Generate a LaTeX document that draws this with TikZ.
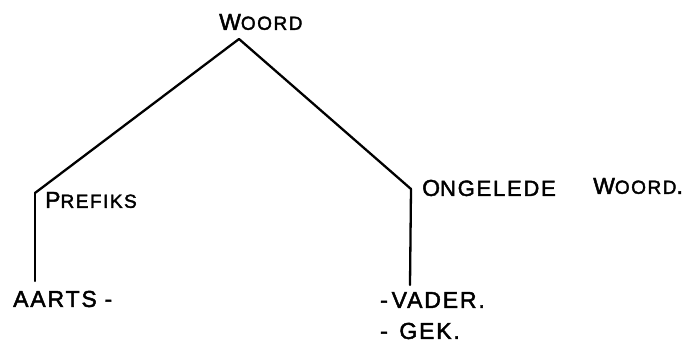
\documentclass[tikz,border=0pt]{standalone}
\usepackage{fontspec}
\setmainfont{Liberation Sans}[FakeBold=2.0, LetterSpace=8]
\newcommand{\sm}{\fontsize{19}{21}\selectfont}
\tikzset{
  hand/.style={anchor=west, inner sep=0pt, font=\fontsize{23}{25}\selectfont},
  branch/.style={line width=2.3pt, line cap=round, line join=round}
}
\begin{document}
\begin{tikzpicture}[x=1pt,y=-1pt]
\useasboundingbox (0,0) rectangle (686,347);
% texts
\node[hand] (woord) at (219,22) {W{\sm OORD}};
\node[hand] (prefiks) at (45,200) {P{\sm REFIKS}};
\node[hand] (aarts) at (13,299) {AARTS\,\,-};
\node[hand] (ongelede) at (422,188) {O{\fontsize{22}{24}\selectfont NGELEDE}};
\node[hand] (woord2) at (593,186) {W{\sm OORD}.};
\node[hand] (vader) at (380,300) {-\,VADER.};
\node[hand] (gek) at (380,331) {-\,\,\,GEK.};
% connectors
\coordinate (apex) at (239,39);
\coordinate (lb) at (35,193);
\coordinate (lbot) at (35,281);
\coordinate (rb) at (411,189);
\coordinate (rbot) at (410,285);
\draw[branch] (lb) -- (apex) -- (rb);
\draw[branch] (lb) -- (lbot);
\draw[branch] (rb) -- (rbot);
\end{tikzpicture}
\end{document}
